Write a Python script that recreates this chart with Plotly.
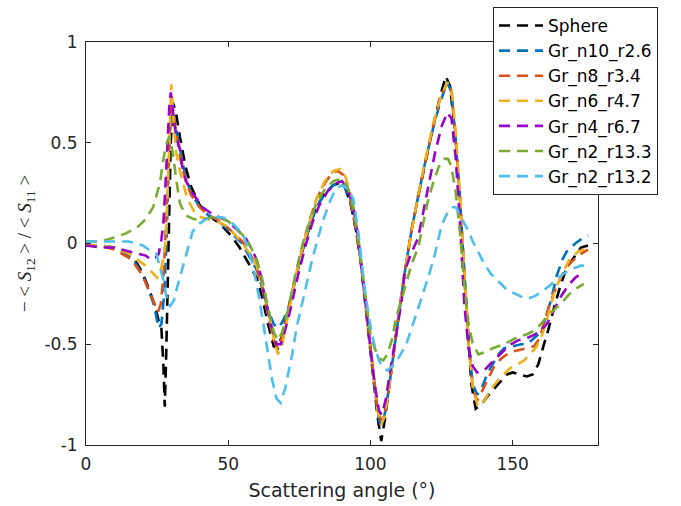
import plotly.graph_objects as go

# ---- data ----
sphere_ang = [0, 5, 10, 15, 18, 20, 22, 24, 25.5, 26.5, 27.2, 27.7, 28.2, 28.7, 29.2, 29.8, 30.5, 31.5, 33, 35, 37, 40, 43, 46, 49, 51.5, 54, 56, 58, 60, 62, 64, 66, 67.5, 69, 71, 73.5, 76, 78.5, 81, 84, 87, 89, 91, 93, 95, 96.5, 98, 99.5, 101, 102.5, 103.8, 105, 106.5, 108, 110, 112, 114.5, 117, 119.5, 122, 124.5, 126.5, 128, 129.5, 131, 132.5, 134, 135.5, 137, 139, 141, 143.5, 146, 148, 150, 152.5, 155, 157, 159, 161, 162.5, 164.5, 167, 169, 172, 174, 176.5]
sphere_val = [-0.01, -0.01, -0.02, -0.05, -0.1, -0.15, -0.22, -0.3, -0.38, -0.42, -0.6, -0.81, -0.55, -0.2, 0.15, 0.5, 0.7, 0.66, 0.53, 0.38, 0.28, 0.19, 0.14, 0.11, 0.07, 0.03, -0.02, -0.07, -0.12, -0.17, -0.27, -0.4, -0.51, -0.52, -0.45, -0.33, -0.18, -0.04, 0.08, 0.18, 0.25, 0.29, 0.3, 0.28, 0.2, 0.06, -0.08, -0.28, -0.48, -0.68, -0.86, -0.98, -0.88, -0.72, -0.55, -0.35, -0.15, 0.07, 0.25, 0.42, 0.58, 0.73, 0.83, 0.78, 0.58, 0.3, -0.05, -0.4, -0.7, -0.82, -0.8, -0.76, -0.72, -0.68, -0.65, -0.64, -0.65, -0.66, -0.65, -0.6, -0.5, -0.43, -0.32, -0.2, -0.12, -0.06, -0.02, -0.01]

n10_ang = [0, 5, 10, 15, 17, 20, 22, 24, 25.5, 26.5, 27.5, 28.3, 29, 29.8, 30.5, 31.5, 33, 35, 37, 40, 43, 46, 49, 52, 55, 58, 60, 62, 64, 66, 67.5, 69, 71, 73.5, 76, 78.5, 81, 84, 87, 89.5, 91.5, 93, 95, 96.5, 98, 99.5, 101, 102.5, 103.5, 105, 106.5, 108, 110, 112, 114.5, 117, 119.5, 122, 124.5, 127, 128.5, 130, 131.5, 133, 134.5, 136, 137.5, 139, 141, 142.5, 145, 147, 150, 153, 155, 157.5, 160, 162, 163.5, 165.5, 167.5, 169, 172, 174, 176.5]
n10_val = [-0.01, -0.01, -0.02, -0.06, -0.09, -0.16, -0.23, -0.31, -0.42, -0.4, -0.25, 0.0, 0.35, 0.62, 0.65, 0.58, 0.47, 0.33, 0.25, 0.18, 0.14, 0.12, 0.08, 0.04, 0.0, -0.08, -0.13, -0.22, -0.33, -0.4, -0.42, -0.39, -0.33, -0.18, -0.04, 0.08, 0.18, 0.25, 0.29, 0.3, 0.27, 0.2, 0.07, -0.07, -0.26, -0.46, -0.66, -0.84, -0.9, -0.85, -0.72, -0.55, -0.35, -0.15, 0.07, 0.25, 0.42, 0.57, 0.7, 0.8, 0.75, 0.5, 0.22, -0.15, -0.5, -0.7, -0.75, -0.72, -0.65, -0.61, -0.55, -0.52, -0.51, -0.5, -0.5, -0.47, -0.44, -0.35, -0.28, -0.16, -0.08, -0.04, 0.0, 0.02, 0.04]

n8_ang = [0, 5, 10, 15, 17, 20, 22, 24, 25.3, 26.3, 27.3, 28.3, 29.2, 30, 30.8, 32, 33.5, 35, 37, 40, 43, 46, 49, 52, 55, 58, 60, 62, 64, 66, 67.5, 69, 71, 73.5, 76, 78.5, 81, 84, 86.5, 88.5, 90.5, 92.5, 94.5, 96.5, 98, 99.5, 101, 102.5, 103.8, 105, 106.5, 108, 110, 112, 114.5, 117, 119.5, 122, 124.5, 127, 128.5, 130, 131.5, 133, 134.5, 136, 137.5, 139, 141, 143.5, 146, 149, 152, 155, 157.5, 159.5, 161, 163, 165.5, 168, 170, 173, 176.5]
n8_val = [-0.01, -0.01, -0.03, -0.07, -0.1, -0.16, -0.23, -0.3, -0.34, -0.3, -0.15, 0.15, 0.5, 0.72, 0.65, 0.52, 0.4, 0.31, 0.24, 0.18, 0.14, 0.12, 0.09, 0.05, 0.01, -0.06, -0.12, -0.22, -0.36, -0.48, -0.52, -0.46, -0.33, -0.17, -0.02, 0.11, 0.22, 0.3, 0.35, 0.36, 0.34, 0.25, 0.1, -0.08, -0.27, -0.47, -0.67, -0.83, -0.88, -0.84, -0.72, -0.55, -0.35, -0.15, 0.07, 0.25, 0.42, 0.58, 0.72, 0.8, 0.76, 0.52, 0.22, -0.15, -0.5, -0.72, -0.78, -0.74, -0.68, -0.61, -0.57, -0.54, -0.53, -0.52, -0.51, -0.47, -0.4, -0.3, -0.21, -0.14, -0.1, -0.06, -0.03]

n6_ang = [0, 5, 10, 15, 18, 21, 23, 25, 26.5, 27.5, 28.2, 28.8, 29.4, 30, 30.7, 31.7, 33.5, 35.7, 38, 40.5, 43, 46, 49, 52, 55, 58, 60, 62, 64, 66, 67.5, 69, 71, 73.5, 76, 78.5, 81, 84, 87, 89.4, 91, 93, 95, 96.5, 98, 99.5, 101, 102.5, 103.8, 105, 106.5, 108, 110, 112, 114.5, 117, 119.5, 122, 124.5, 127, 128.5, 130, 131.5, 133, 134.5, 136, 137.8, 140, 142.5, 144.8, 147, 149, 151.7, 154, 156, 158, 160, 162, 164.5, 167, 170, 173, 176.5]
n6_val = [-0.01, -0.01, -0.02, -0.05, -0.08, -0.11, -0.14, -0.17, -0.12, -0.05, 0.05, 0.3, 0.6, 0.79, 0.62, 0.45, 0.33, 0.22, 0.16, 0.13, 0.12, 0.11, 0.09, 0.05, 0.0, -0.06, -0.11, -0.2, -0.33, -0.47, -0.55, -0.5, -0.36, -0.18, -0.03, 0.1, 0.22, 0.31, 0.36, 0.37, 0.34, 0.25, 0.1, -0.06, -0.25, -0.45, -0.66, -0.83, -0.9, -0.86, -0.72, -0.55, -0.35, -0.14, 0.07, 0.26, 0.43, 0.59, 0.72, 0.8, 0.77, 0.55, 0.22, -0.15, -0.5, -0.72, -0.81, -0.78, -0.72, -0.68, -0.65, -0.62, -0.6, -0.58, -0.55, -0.52, -0.47, -0.38, -0.25, -0.16, -0.08, -0.04, -0.02]

n4_ang = [0, 5, 10, 15, 18, 21, 23, 24.5, 25.6, 26.5, 27.2, 27.8, 28.3, 28.8, 29.3, 29.8, 30.3, 30.8, 32, 33, 34, 35.5, 37.5, 41, 44, 47, 50, 53, 56, 58, 60, 61.5, 63, 65, 67, 68.5, 70, 72, 74.5, 77, 79.5, 82, 85, 88, 90, 92, 94, 95.5, 97, 98.5, 100, 101.5, 103, 104, 105.3, 107, 109, 111, 112, 114, 116.8, 118.5, 120, 122.7, 125, 127, 128.5, 130, 131.5, 133, 134.5, 136, 137.5, 140, 142, 144.8, 147, 149.4, 152, 155, 158, 160, 162, 163.4, 165.5, 167.5, 170, 172, 174]
n4_val = [-0.01, -0.02, -0.02, -0.04, -0.05, -0.06, -0.08, -0.07, -0.05, 0.02, 0.1, 0.25, 0.4, 0.55, 0.68, 0.75, 0.7, 0.61, 0.52, 0.47, 0.37, 0.3, 0.25, 0.18, 0.15, 0.13, 0.11, 0.07, 0.03, -0.02, -0.08, -0.16, -0.28, -0.4, -0.5, -0.5, -0.43, -0.32, -0.16, -0.02, 0.1, 0.19, 0.26, 0.3, 0.31, 0.27, 0.18, 0.05, -0.12, -0.32, -0.52, -0.7, -0.83, -0.85, -0.78, -0.63, -0.46, -0.28, -0.14, -0.06, 0.03, 0.15, 0.27, 0.45, 0.58, 0.65, 0.62, 0.42, 0.1, -0.3, -0.52, -0.61, -0.64, -0.63, -0.6, -0.56, -0.53, -0.5, -0.48, -0.47, -0.45, -0.43, -0.4, -0.36, -0.3, -0.25, -0.2, -0.17, -0.15]

n2a_ang = [0, 5, 10, 14, 18, 21, 23.6, 25, 26, 27, 28, 29.2, 30.5, 31.7, 33, 35, 38, 41, 44.5, 47, 50, 53, 56, 58, 60, 62, 64, 66, 67.5, 69, 71, 73.5, 76, 78.5, 81, 84, 87, 90, 92, 94, 95.5, 97, 98.5, 100, 101.5, 103, 104.5, 106, 107.5, 109, 110.5, 112, 114.5, 116.8, 118.5, 120, 122, 124, 126, 127.3, 128.5, 130, 131.5, 133, 134.5, 136, 138, 140, 143, 147, 151, 155, 158, 160, 163, 166.8, 170, 172.7, 175]
n2a_val = [0.01, 0.01, 0.03, 0.05, 0.08, 0.12, 0.18, 0.25, 0.3, 0.4, 0.48, 0.53, 0.45, 0.32, 0.2, 0.14, 0.12, 0.12, 0.13, 0.13, 0.11, 0.07, 0.03, -0.02, -0.08, -0.18, -0.32, -0.44, -0.48, -0.44, -0.33, -0.16, -0.01, 0.1, 0.2, 0.27, 0.31, 0.32, 0.28, 0.18, 0.05, -0.12, -0.3, -0.45, -0.52, -0.57, -0.58, -0.55, -0.48, -0.37, -0.3, -0.22, -0.1, -0.02, 0.1, 0.2, 0.3, 0.38, 0.42, 0.42, 0.38, 0.25, 0.05, -0.2, -0.4, -0.5, -0.55, -0.54, -0.52, -0.5, -0.47, -0.45, -0.43, -0.4, -0.35, -0.3, -0.25, -0.22, -0.2]

n2b_ang = [0, 5, 10, 15, 18, 20, 22, 24.7, 27, 28.8, 29.6, 31, 32, 34, 35.8, 37.5, 40, 42, 45, 48, 50, 53, 55, 57, 59, 61, 62.5, 64, 65.5, 67, 68.4, 70, 72.5, 74, 76, 79.5, 83, 85.5, 87.7, 90, 92, 94, 95.8, 97, 98, 99.3, 100.5, 101.7, 103, 104.6, 106, 107.5, 109, 111, 112.6, 114.5, 116.8, 118.5, 120.5, 122.7, 124, 125, 127, 128.5, 130, 131.5, 133, 134.5, 136, 137.8, 140, 142.3, 145, 148, 151, 154, 156, 158, 160, 163, 166, 169, 172, 174, 176.5]
n2b_val = [0.01, 0.01, 0.01, 0.01, 0.0, -0.01, -0.03, -0.05, -0.17, -0.3, -0.31, -0.28, -0.22, -0.12, -0.02, 0.06, 0.1, 0.12, 0.13, 0.13, 0.12, 0.08, 0.05, -0.02, -0.13, -0.28, -0.42, -0.55, -0.68, -0.77, -0.79, -0.72, -0.55, -0.42, -0.3, -0.08, 0.1, 0.2, 0.27, 0.29, 0.27, 0.22, 0.05, -0.1, -0.23, -0.35, -0.45, -0.52, -0.58, -0.62, -0.63, -0.61, -0.59, -0.54, -0.5, -0.42, -0.32, -0.24, -0.16, -0.05, 0.03, 0.09, 0.15, 0.18, 0.18, 0.14, 0.1, 0.06, 0.01, -0.04, -0.1, -0.15, -0.19, -0.23, -0.25, -0.27, -0.27, -0.26, -0.24, -0.21, -0.17, -0.14, -0.12, -0.11, -0.11]

series_names = ["Sphere", "Gr_n10_r2.6", "Gr_n8_r3.4", "Gr_n6_r4.7", "Gr_n4_r6.7", "Gr_n2_r13.3", "Gr_n2_r13.2"]
series_colors = ["#000000", "#0072BD", "#D95319", "#EDB120", "#9900CC", "#77AC30", "#4DBEEE"]

x_ticks = [0, 50, 100, 150]
x_ticklabels = ["0", "50", "100", "150"]
y_ticks = [-1, -0.5, 0, 0.5, 1]
y_ticklabels = ["-1", "-0.5", "0", "0.5", "1"]

series_data = [
    (sphere_ang, sphere_val),
    (n10_ang, n10_val),
    (n8_ang, n8_val),
    (n6_ang, n6_val),
    (n4_ang, n4_val),
    (n2a_ang, n2a_val),
    (n2b_ang, n2b_val),
]

TXT = "#262626"
FONT = "DejaVu Sans"

fig = go.Figure()
for (ang, val), name, col in zip(series_data, series_names, series_colors):
    fig.add_trace(go.Scatter(
        x=ang, y=val, mode="lines", name=name,
        line=dict(color=col, width=2.6, dash="11px,7px"),
    ))

axis_common = dict(
    showline=True, linecolor=TXT, linewidth=1, mirror="ticks",
    ticks="inside", ticklen=5, tickwidth=1, tickcolor=TXT,
    showgrid=False, zeroline=False, automargin=False,
    tickfont=dict(family=FONT, size=17, color=TXT),
)

fig.update_layout(
    width=681, height=506,
    margin=dict(l=86, r=83, t=42, b=61, autoexpand=False),
    paper_bgcolor="white", plot_bgcolor="white",
    font=dict(family=FONT, color=TXT),
    xaxis=dict(range=[0, 180], tickvals=x_ticks, ticktext=x_ticklabels,
               ticklabelstandoff=4,
               title=dict(text="Scattering angle (°)", font=dict(family=FONT, size=19, color=TXT), standoff=10),
               **axis_common),
    yaxis=dict(range=[-1, 1], tickvals=y_ticks, ticktext=y_ticklabels,
               ticklabelstandoff=4,
               title=dict(text="− &lt; <i>S</i><sub>12</sub> &gt; / &lt; <i>S</i><sub>11</sub> &gt;",
                          font=dict(family="Liberation Serif", size=19, color=TXT), standoff=7),
               **axis_common),
    legend=dict(x=0.795, y=1.087, xanchor="left", yanchor="top",
                bgcolor="white", bordercolor=TXT, borderwidth=1,
                font=dict(family=FONT, size=17, color="black"),
                tracegroupgap=0, itemwidth=44),
    showlegend=True,
)

fig.write_html("out.html")
